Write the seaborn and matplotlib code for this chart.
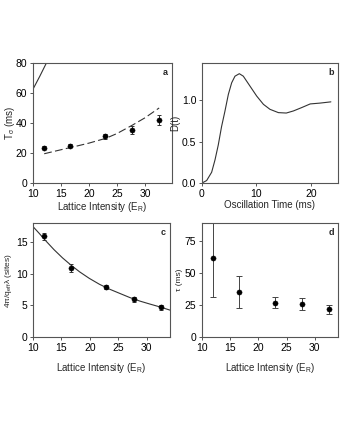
import numpy as np
import pandas as pd
import matplotlib
matplotlib.use("Agg")
import matplotlib.pyplot as plt
import seaborn as sns

# data
lattice = [12.0, 16.6, 22.9, 27.7, 32.5]

# panel a
t_sigma = [23.5, 25.0, 31.0, 35.5, 42.0]
t_sigma_err = [1.0, 1.3, 1.5, 2.8, 3.5]
dash_x = [12.0, 14.0, 16.5, 18.0, 20.0, 23.0, 25.0, 27.7, 30.0, 32.5]
dash_y = [19.5, 21.3, 23.5, 24.8, 26.6, 29.8, 33.0, 38.5, 43.5, 50.0]
steep_x = [10.0, 11.2, 12.4]
steep_y = [62.5, 71.0, 80.0]

# panel b
osc_t = [0.0, 0.86, 1.78, 2.4, 3.0, 3.6, 4.2, 4.85, 5.46, 6.07, 6.87, 7.6, 8.83,
         10.06, 11.3, 12.5, 14.05, 15.5, 16.8, 18.3, 19.9, 21.7, 23.7]
osc_d = [0.0, 0.03, 0.13, 0.28, 0.46, 0.68, 0.86, 1.07, 1.21, 1.29, 1.32, 1.29, 1.17,
         1.05, 0.95, 0.89, 0.85, 0.845, 0.87, 0.91, 0.955, 0.965, 0.98]

# panel c
sites = [15.9, 10.9, 7.9, 6.0, 4.7]
sites_err = [0.6, 0.6, 0.3, 0.4, 0.4]
fit_x = [10.0, 11.07, 12.25, 13.7, 15.2, 16.7, 18.2, 19.9, 21.7, 23.5, 25.3, 27.0,
         28.8, 30.6, 32.4, 34.1]
fit_y = [17.45, 16.4, 15.2, 13.8, 12.5, 11.35, 10.3, 9.27, 8.33, 7.55, 6.88, 6.25,
         5.68, 5.2, 4.74, 4.25]

# panel d
tau = [61.5, 35.4, 26.6, 25.8, 21.6]
tau_err = [30.5, 12.5, 4.3, 4.6, 3.6]

sns.set_style("ticks")
plt.rcParams['font.family'] = ['Liberation Sans', 'DejaVu Sans']
plt.rcParams['mathtext.fontset'] = 'custom'
plt.rcParams['mathtext.rm'] = 'Liberation Sans'
plt.rcParams['mathtext.it'] = 'Liberation Sans'
plt.rcParams['font.size'] = 7
plt.rcParams['axes.linewidth'] = 0.8
plt.rcParams['axes.edgecolor'] = '#555555'
plt.rcParams['xtick.major.size'] = 2.5
plt.rcParams['ytick.major.size'] = 2.5
plt.rcParams['xtick.major.width'] = 0.7
plt.rcParams['ytick.major.width'] = 0.7
plt.rcParams['xtick.major.pad'] = 1.5
plt.rcParams['ytick.major.pad'] = 1.5

fig = plt.figure(figsize=(3.4, 4.4), dpi=100)
ax_a = fig.add_axes([0.097, 0.584, 0.409, 0.273])
ax_b = fig.add_axes([0.594, 0.584, 0.400, 0.273])
ax_c = fig.add_axes([0.097, 0.234, 0.403, 0.259])
ax_d = fig.add_axes([0.594, 0.234, 0.400, 0.259])

lw = 0.8
ms = 14

# a
sns.lineplot(x=steep_x, y=steep_y, ax=ax_a, color='#333333', lw=lw)
sns.lineplot(x=dash_x, y=dash_y, ax=ax_a, color='#333333', lw=lw, linestyle=(0, (7, 3)))
ax_a.errorbar(lattice, t_sigma, yerr=t_sigma_err, fmt='none', ecolor='#333333',
              elinewidth=0.7, capsize=1.5, capthick=0.7)
sns.scatterplot(x=lattice, y=t_sigma, ax=ax_a, color='black', s=ms, edgecolor='black', zorder=3)
ax_a.set_xlim(10, 34.8)
ax_a.set_ylim(0, 80)
ax_a.set_xticks([10, 15, 20, 25, 30])
ax_a.set_yticks([0, 20, 40, 60, 80])
ax_a.set_xlabel('Lattice Intensity (E$_R$)', labelpad=1)
ax_a.set_ylabel(r'T$_\sigma$ (ms)', labelpad=-1)

# b
sns.lineplot(x=osc_t, y=osc_d, ax=ax_b, color='#333333', lw=lw)
ax_b.set_xlim(0, 25)
ax_b.set_ylim(0, 1.45)
ax_b.set_xticks([0, 10, 20])
ax_b.set_yticks([0.0, 0.5, 1.0])
ax_b.set_yticklabels(['0.0', '0.5', '1.0'])
ax_b.set_xlabel('Oscillation Time (ms)', labelpad=1)
ax_b.set_ylabel('D(t)', labelpad=1)

# c
sns.lineplot(x=fit_x, y=fit_y, ax=ax_c, color='#333333', lw=lw)
ax_c.errorbar(lattice, sites, yerr=sites_err, fmt='none', ecolor='#333333',
              elinewidth=0.7, capsize=1.5, capthick=0.7)
sns.scatterplot(x=lattice, y=sites, ax=ax_c, color='black', s=ms, edgecolor='black', zorder=3)
ax_c.set_xlim(10, 34.1)
ax_c.set_ylim(0, 18)
ax_c.set_xticks([10, 15, 20, 25, 30])
ax_c.set_yticks([0, 5, 10, 15])
ax_c.set_xlabel('Lattice Intensity (E$_R$)', labelpad=6)
ax_c.set_ylabel(r'4π/q$_{eff}$λ (sites)', fontsize=6, labelpad=1)

# d
ax_d.errorbar(lattice, tau, yerr=tau_err, fmt='none', ecolor='#444444',
              elinewidth=0.7, capsize=2, capthick=0.7)
sns.scatterplot(x=lattice, y=tau, ax=ax_d, color='black', s=ms, edgecolor='black', zorder=3)
ax_d.set_xlim(10, 34.1)
ax_d.set_ylim(0, 89)
ax_d.set_xticks([10, 15, 20, 25, 30])
ax_d.set_yticks([0, 25, 50, 75])
ax_d.set_xlabel('Lattice Intensity (E$_R$)', labelpad=6)
ax_d.set_ylabel('τ (ms)', fontsize=6, labelpad=1)

for ax, lab in zip([ax_a, ax_b, ax_c, ax_d], ['a', 'b', 'c', 'd']):
    ax.text(0.97, 0.96, lab, transform=ax.transAxes, ha='right', va='top',
            fontsize=6.5, fontweight='bold')
    ax.tick_params(labelsize=7.5, colors='#555555', labelcolor='black')
    ax.xaxis.label.set_size(7)
    for s in ax.spines.values():
        s.set_visible(True)

fig.savefig('out.png', dpi=100)
